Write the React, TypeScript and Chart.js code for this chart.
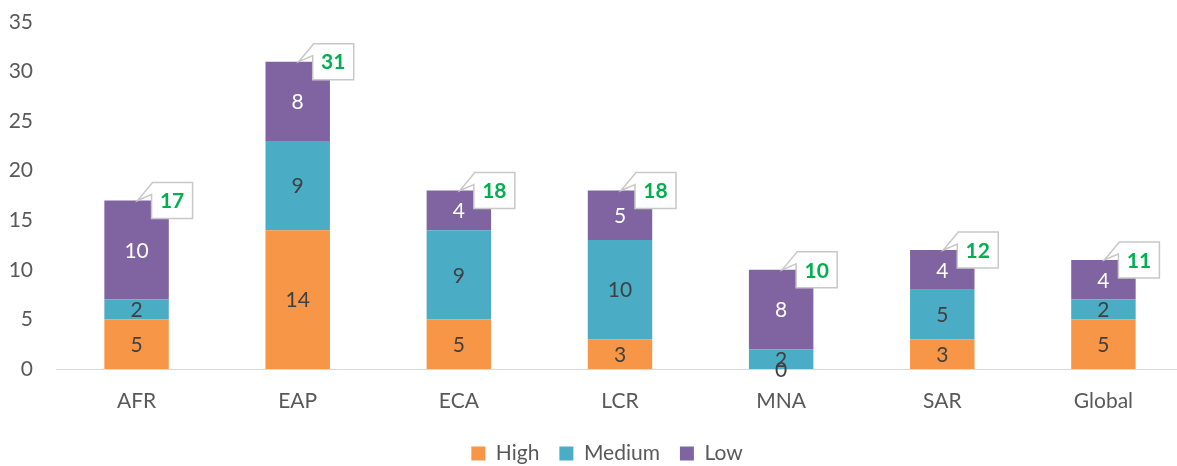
import React, { useEffect, useRef } from "react";
import { Chart, registerables } from "chart.js";

Chart.register(...registerables);

const categories = ["AFR", "EAP", "ECA", "LCR", "MNA", "SAR", "Global"];
const highValues = [5, 14, 5, 3, 0, 3, 5];
const mediumValues = [2, 9, 9, 10, 2, 5, 2];
const lowValues = [10, 8, 4, 5, 8, 4, 4];
const totals = [17, 31, 18, 18, 10, 12, 11];
const yTicks = [0, 5, 10, 15, 20, 25, 30, 35];

const FONT = "Lato, 'Open Sans', sans-serif";

const labelPlugin = {
  id: "segLabels",
  afterLayout(chart: any) {
    if (chart.legend) {
      chart.legend.left += 15;
      chart.legend.right += 15;
    }
  },
  afterDatasetsDraw(chart: any) {
    const ctx = chart.ctx;
    ctx.save();
    ctx.font = `21px ${FONT}`;
    ctx.textAlign = "center";
    ctx.textBaseline = "middle";
    chart.data.datasets.forEach((ds: any, di: number) => {
      const meta = chart.getDatasetMeta(di);
      meta.data.forEach((bar: any, i: number) => {
        const v = ds.data[i];
        const yc = (bar.y + bar.base) / 2;
        ctx.fillStyle = di === 2 ? "#ffffff" : "#404040";
        ctx.fillText(String(v), bar.x, yc + 1);
      });
    });
    const yScale = chart.scales.y;
    const meta0 = chart.getDatasetMeta(0);
    totals.forEach((t, i) => {
      const cx = meta0.data[i].x;
      const ty = yScale.getPixelForValue(t);
      const w = 41, h = 36;
      const left = cx + 15;
      const top = ty - 18;
      ctx.beginPath();
      ctx.moveTo(left, top);
      ctx.lineTo(left + w, top);
      ctx.lineTo(left + w, top + h);
      ctx.lineTo(left, top + h);
      ctx.lineTo(left, top + 12);
      ctx.lineTo(cx + 1, ty);
      ctx.lineTo(left + 1, top);
      ctx.closePath();
      ctx.fillStyle = "#ffffff";
      ctx.fill();
      ctx.strokeStyle = "#c8c8c8";
      ctx.lineWidth = 1.5;
      ctx.stroke();
      ctx.font = `bold 21px ${FONT}`;
      ctx.fillStyle = "#00B050";
      ctx.fillText(String(t), left + w / 2, top + h / 2 + 1);
    });
    ctx.restore();
  },
};

export default function App() {
  const ref = useRef<HTMLCanvasElement>(null);
  useEffect(() => {
    document.body.style.margin = "0";
    document.body.style.overflow = "hidden";
    const chart = new Chart(ref.current!, {
      type: "bar",
      data: {
        labels: categories,
        datasets: [
          { label: "High", data: highValues, backgroundColor: "#F79646", barPercentage: 0.4, categoryPercentage: 1 },
          { label: "Medium", data: mediumValues, backgroundColor: "#4BACC6", barPercentage: 0.4, categoryPercentage: 1 },
          { label: "Low", data: lowValues, backgroundColor: "#8064A2", barPercentage: 0.4, categoryPercentage: 1 },
        ],
      },
      options: {
        animation: false,
        responsive: false,
        layout: { padding: { top: 22, left: 0, right: 0, bottom: -8 } },
        plugins: {
          legend: {
            position: "bottom",
            labels: {
              boxWidth: 14,
              boxHeight: 14,
              padding: 20,
              color: "#595959",
              font: { family: FONT, size: 21 },
            },
          },
          tooltip: { enabled: false },
        },
        scales: {
          x: {
            stacked: true,
            grid: { display: false, drawTicks: false },
            border: { display: true, color: "#d9d9d9", width: 1 },
            ticks: { color: "#595959", font: { family: FONT, size: 21 }, padding: 20 },
            afterFit: (s: any) => { s.height = 54; },
          },
          y: {
            stacked: true,
            min: 0,
            max: 35,
            grid: { display: false, drawTicks: false },
            border: { display: false },
            afterBuildTicks: (s: any) => { s.ticks = yTicks.map((v) => ({ value: v })); },
            ticks: { color: "#595959", font: { family: FONT, size: 21 }, padding: 23 },
            afterFit: (s: any) => {
              s.width = 56;
              s.paddingTop = 0;
              s.paddingBottom = 0;
            },
          },
        },
      },
      plugins: [labelPlugin],
    });
    return () => chart.destroy();
  }, []);
  return (
    <div style={{ width: 1177, height: 466, overflow: "hidden", position: "relative" }}>
      <canvas ref={ref} width={1184} height={466} style={{ position: "absolute", left: 0, top: 0 }} />
    </div>
  );
}
